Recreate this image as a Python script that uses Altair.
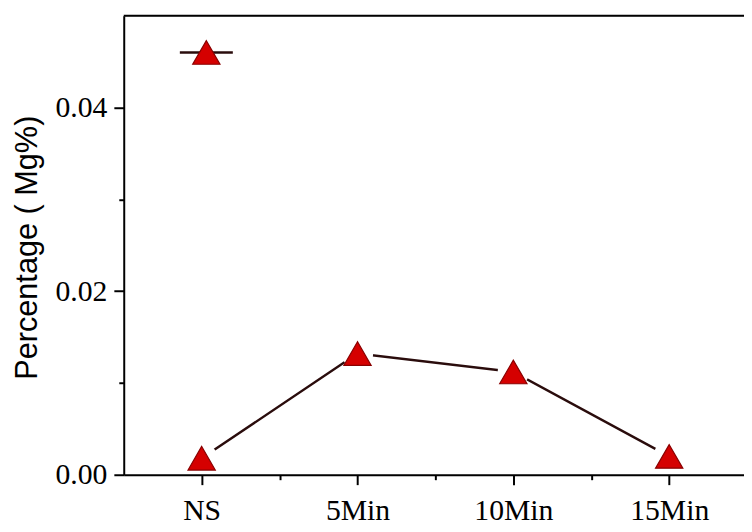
import altair as alt
import pandas as pd

# ---- data ----
categories = ["NS", "5Min", "10Min", "15Min"]
positions = [1, 2, 3, 4]
mg_percent = [0.0018, 0.0132, 0.0112, 0.0020]

# legend-style symbol near the top (line + triangle), in data units
legend_line_x = [0.86, 1.20]
legend_marker_x = [1.03]
legend_value = 0.046

x_ticks = [1, 1.5, 2, 2.5, 3, 3.5, 4]
y_ticks = [0.0, 0.01, 0.02, 0.03, 0.04]
x_domain = [0.5, 4.48]
y_domain = [0.0, 0.05]

df = pd.DataFrame({"pos": positions, "cat": categories, "mg": mg_percent})
leg_line = pd.DataFrame({"pos": legend_line_x, "mg": [legend_value] * len(legend_line_x)})
leg_pt = pd.DataFrame({"pos": legend_marker_x, "mg": [legend_value]})
frame_top = pd.DataFrame({"x0": [x_domain[0]], "x1": [x_domain[1]], "y": [y_domain[1]]})

label_arr = "[''," + ",".join(f"'{c}'" for c in categories) + "]"
x_label_expr = f"datum.value % 1 == 0 ? {label_arr}[datum.value] : ''"
y_label_expr = "round(datum.value*100) % 2 == 0 ? format(datum.value, '.2f') : ''"

LINE_COLOR = "#2a0c0c"
FILL = "#d50000"
EDGE = "#8a0000"
TICK_FONT = "Liberation Serif"

x_axis = alt.Axis(
    orient="bottom", values=x_ticks, labelExpr=x_label_expr, title=None,
    grid=False, domainColor="black", domainWidth=2, tickColor="black", tickWidth=2,
    tickSize={"condition": {"test": "datum.value % 1 != 0", "value": 5}, "value": 10},
    labelFont=TICK_FONT, labelFontSize=30, labelFontWeight="normal", labelColor="black",
    labelPadding=11, labelFlush=False, labelOverlap=False, zindex=1,
)
y_axis = alt.Axis(
    orient="left", values=y_ticks, labelExpr=y_label_expr,
    title="Percentage ( Mg%)", titleFont="Liberation Sans", titleFontSize=31,
    titleFontWeight="normal", titleColor="black", titleAngle=-90,
    titleX=-88, titleY=234, titleAlign="center", titleBaseline="alphabetic",
    grid=False, domainColor="black", domainWidth=2, tickColor="black", tickWidth=2,
    tickSize={"condition": {"test": "round(datum.value*100) % 2 != 0", "value": 5}, "value": 10},
    labelFont=TICK_FONT, labelFontSize=30, labelFontWeight="normal", labelColor="black",
    labelPadding=7, labelBaseline="middle", labelFlush=False, labelOverlap=False, zindex=1,
)

xs = alt.Scale(domain=x_domain, nice=False, zero=False)
ys = alt.Scale(domain=y_domain, nice=False, zero=True)

base = alt.Chart(df).encode(
    x=alt.X("pos:Q", scale=xs, axis=x_axis),
    y=alt.Y("mg:Q", scale=ys, axis=y_axis),
)

line = base.mark_line(color=LINE_COLOR, strokeWidth=2.4)
halo = base.mark_point(shape="circle", filled=True, color="white", size=1000, opacity=1)
tri = base.mark_point(shape="triangle-up", filled=True, fill=FILL, stroke=EDGE,
                      strokeWidth=1.2, size=760, opacity=1)

top_rule = alt.Chart(frame_top).mark_rule(color="black", strokeWidth=2, clip=False).encode(
    x=alt.X("x0:Q", scale=xs), x2="x1:Q", y=alt.Y("y:Q", scale=ys),
)

leg_rule = alt.Chart(leg_line).mark_line(color=LINE_COLOR, strokeWidth=2.4).encode(
    x=alt.X("pos:Q", scale=xs), y=alt.Y("mg:Q", scale=ys),
)
leg_tri = alt.Chart(leg_pt).mark_point(shape="triangle-up", filled=True, fill=FILL,
                                        stroke=EDGE, strokeWidth=1.2, size=760, opacity=1).encode(
    x=alt.X("pos:Q", scale=xs), y=alt.Y("mg:Q", scale=ys),
)

chart = alt.layer(line, halo, tri, leg_rule, leg_tri, top_rule).properties(
    width=627, height=464,
    autosize=alt.AutoSizeParams(type="none"),
    padding={"left": 117, "top": 5, "right": 0, "bottom": 50},
).configure_view(stroke=None).configure(background="white")

chart.save("out.html", embed_options={"renderer": "svg", "actions": False})
